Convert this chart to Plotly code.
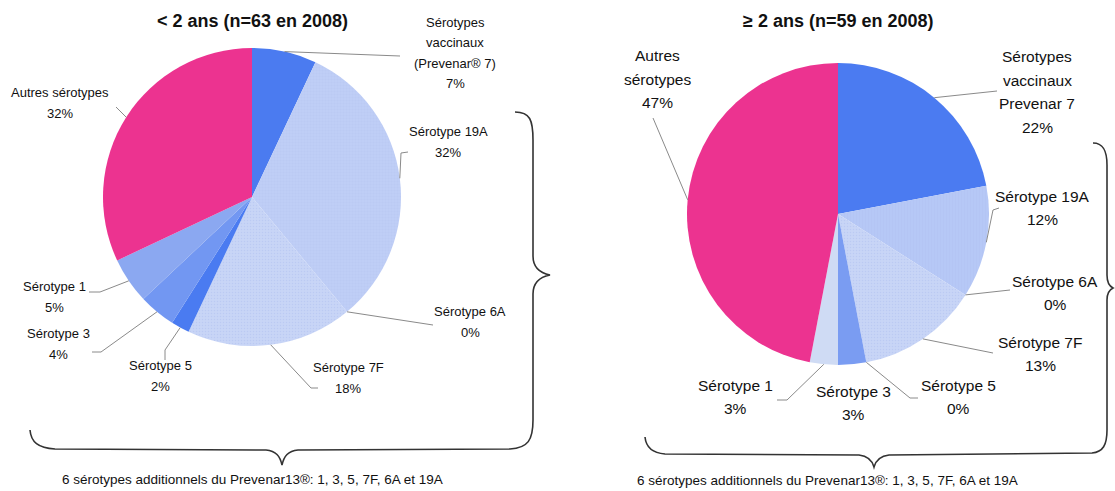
import math
import plotly.graph_objects as go

W, H = 1115, 491

# ---------------- data ----------------
categories = ["Sérotypes vaccinaux", "Sérotype 19A", "Sérotype 6A", "Sérotype 7F",
              "Sérotype 5", "Sérotype 3", "Sérotype 1", "Autres sérotypes"]
values_lt2 = [7, 32, 0, 18, 2, 4, 5, 32]
values_ge2 = [22, 12, 0, 13, 0, 3, 3, 47]

labels_lt2 = [["Sérotypes", "vaccinaux", "(Prevenar® 7)"], ["Sérotype 19A"], ["Sérotype 6A"],
              ["Sérotype 7F"], ["Sérotype 5"], ["Sérotype 3"], ["Sérotype 1"], ["Autres sérotypes"]]
labels_ge2 = [["Sérotypes", "vaccinaux", "Prevenar 7"], ["Sérotype 19A"], ["Sérotype 6A"],
              ["Sérotype 7F"], ["Sérotype 5"], ["Sérotype 3"], ["Sérotype 1"], ["Autres", "sérotypes"]]

title_lt2 = "&lt; 2 ans (n=63 en 2008)"
title_ge2 = "≥ 2 ans (n=59 en 2008)"
note = "6 sérotypes additionnels du Prevenar13®: 1, 3, 5, 7F, 6A et 19A"

# ---------------- styles / layout ----------------
colors_lt2 = ["#4b7bf0", "#bfcef6", "#c3d1f6", "#c8d5f6", "#4a7bf1", "#7297f2", "#8ba8f1", "#ec3390"]
colors_ge2 = ["#4b7bf1", "#b6c8f6", "#c3d1f6", "#c8d5f6", "#4a7bf1", "#7a9cf2", "#cfdbf4", "#ec3390"]
patt_lt2 = ["", "+", "", ".", "", "", "", ""]
patt_ge2 = ["", "|", "", ".", "", "", "", ""]

FONT = "Liberation Sans, Arial, Helvetica, sans-serif"

pies = [
    dict(cx=252, cy=197, r=149, values=values_lt2, labels=labels_lt2, colors=colors_lt2,
         patt=patt_lt2, fsize=13, lsp=20.5, title=title_lt2, tx=252, ty=21,
         pos=[(455, 53), (448, 142), (470, 322), (348, 378), (160, 376), (58, 344), (54, 297), (60, 103)],
         path=[[(400, 56)], [(401, 153), (408, 152)], [(433, 325)], [(311, 388), (318, 388)],
               [(165, 350), (165, 360)], [(101, 352), (92, 352)], [(100, 292), (89, 292)], [(116, 107)]],
         notex=60, notey=479),
    dict(cx=838, cy=214, r=151, values=values_ge2, labels=labels_ge2, colors=colors_ge2,
         patt=patt_ge2, fsize=15.5, lsp=23.5, title=title_ge2, tx=838, ty=21,
         pos=[(1037, 92), (1042, 208), (1055, 293), (1040, 354), (958, 397), (853, 403), (735, 397), (657, 79)],
         path=[[(997, 91)], [(993, 210), (999, 208)], [(1010, 290)], [(993, 353)],
               [(910, 398), (918, 398)], None, [(787, 400), (777, 400)], [(653, 118)]],
         notex=635, notey=480),
]

fig = go.Figure()
annotations = []
shapes = []

for p in pies:
    cx, cy, r = p["cx"], p["cy"], p["r"]
    fig.add_trace(go.Pie(
        values=p["values"], labels=categories, sort=False, direction="clockwise", rotation=0,
        textinfo="none", hoverinfo="label+percent", showlegend=False,
        marker=dict(colors=p["colors"], line=dict(width=0),
                    pattern=dict(shape=p["patt"], fgcolor="#aec0ee", size=3, solidity=0.2,
                                 fillmode="overlay")),
        domain=dict(x=[(cx - r) / W, (cx + r) / W], y=[(H - cy - r) / H, (H - cy + r) / H]),
    ))
    total = sum(p["values"])
    cum = 0.0
    for i, v in enumerate(p["values"]):
        mid = (cum + v / 2) / total * 360.0
        cum += v
        ex = cx + r * math.sin(math.radians(mid))
        ey = cy - r * math.cos(math.radians(mid))
        lines = p["labels"][i] + [f"{v}%"]
        lx, ly = p["pos"][i]
        n = len(lines)
        for k, t in enumerate(lines):
            annotations.append(dict(x=lx, y=ly + (k - (n - 1) / 2) * p["lsp"], xref="x", yref="y",
                                    text=t, showarrow=False,
                                    font=dict(family=FONT, size=p["fsize"], color="#111"),
                                    xanchor="center", yanchor="middle"))
        pts = p["path"][i]
        if pts:
            allpts = [(ex, ey)] + pts
            d = "M " + " L ".join(f"{x:.1f},{y:.1f}" for x, y in allpts)
            shapes.append(dict(type="path", path=d, xref="x", yref="y",
                               line=dict(color="#8a8a8a", width=1)))
    annotations.append(dict(x=p["tx"], y=p["ty"], xref="x", yref="y", text="<b>" + p["title"] + "</b>",
                            showarrow=False, font=dict(family=FONT, size=18, color="#111"),
                            xanchor="center", yanchor="middle"))
    annotations.append(dict(x=p["notex"], y=p["notey"], xref="x", yref="y", text=note,
                            showarrow=False, font=dict(family=FONT, size=13.5, color="#111"),
                            xanchor="left", yanchor="middle"))

# curly braces (decoration)
brace_left = ("M 515,112 C 530,112 533,120 533,140 L 533,256 C 533,268 540,273 550,275 "
              "C 540,277 533,282 533,294 L 533,420 C 533,440 528,448 510,449 L 298,450 "
              "C 288,451 284,456 282,465 C 280,456 276,451 266,450 L 55,449 C 38,448 31,442 30,430")
brace_right = ("M 1093,143 C 1104,143 1107,152 1107,165 L 1107,275 C 1107,283 1109,286 1113,288 "
               "C 1109,290 1107,293 1107,300 L 1107,430 C 1107,445 1103,452 1092,453 L 889,455 "
               "C 880,456 876,460 874,467 C 872,460 868,456 859,455 L 665,454 C 652,453 646,447 645,437")
for b in (brace_left, brace_right):
    shapes.append(dict(type="path", path=b, xref="x", yref="y", line=dict(color="#333", width=1.6)))

fig.update_layout(
    width=W, height=H, margin=dict(l=0, r=0, t=0, b=0),
    paper_bgcolor="white", plot_bgcolor="rgba(0,0,0,0)",
    xaxis=dict(range=[0, W], visible=False, domain=[0, 1], fixedrange=True),
    yaxis=dict(range=[H, 0], visible=False, domain=[0, 1], fixedrange=True),
    annotations=annotations, shapes=shapes,
)

fig.write_html("out.html", config={"displayModeBar": False},
               post_script="document.body.style.margin='0';document.body.style.overflow='hidden';")
